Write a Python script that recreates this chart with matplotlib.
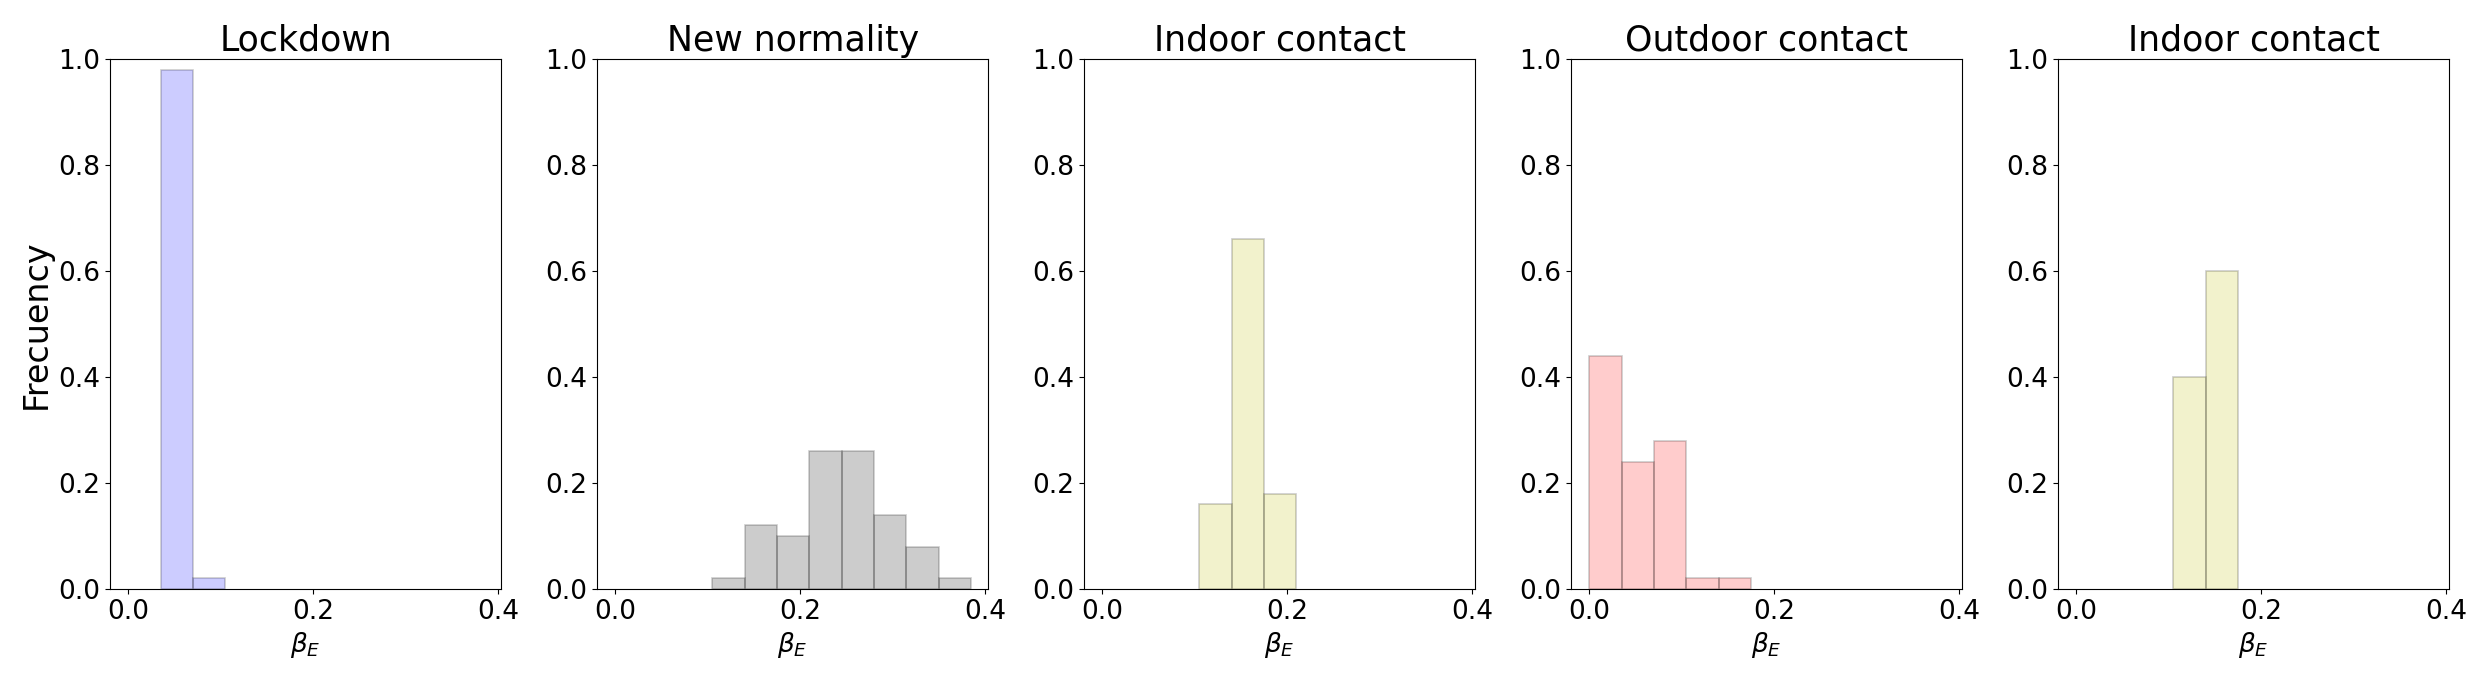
import numpy as np
import matplotlib.pyplot as plt

# bin width of every histogram
bin_w = 0.035

titles = ["Lockdown", "New normality", "Indoor contact", "Outdoor contact", "Indoor contact"]
colors = ["b", "k", "y", "r", "y"]

# left edges of the bins and the relative frequency of each bin
lockdown_left = [0.035, 0.070]
lockdown_freq = [0.98, 0.02]

normality_left = [0.105, 0.140, 0.175, 0.210, 0.245, 0.280, 0.315, 0.350]
normality_freq = [0.02, 0.12, 0.10, 0.26, 0.26, 0.14, 0.08, 0.02]

indoor_left = [0.105, 0.140, 0.175]
indoor_freq = [0.16, 0.66, 0.18]

outdoor_left = [0.000, 0.035, 0.070, 0.105, 0.140]
outdoor_freq = [0.44, 0.24, 0.28, 0.02, 0.02]

indoor2_left = [0.105, 0.140]
indoor2_freq = [0.40, 0.60]

lefts = [lockdown_left, normality_left, indoor_left, outdoor_left, indoor2_left]
freqs = [lockdown_freq, normality_freq, indoor_freq, outdoor_freq, indoor2_freq]

fig = plt.figure(figsize=(24.81, 6.86), dpi=100)

for i in range(5):
    ax = fig.add_axes([0.0443 + i * 0.1963, 0.1414, 0.1578, 0.7726])
    ax.bar(lefts[i], freqs[i], width=bin_w, align="edge",
           color=colors[i], edgecolor="k", alpha=0.2, linewidth=1.2)
    ax.set_xlim(-0.0198, 0.4037)
    ax.set_ylim(0, 1)
    ax.set_xticks([0.0, 0.2, 0.4])
    ax.set_yticks(np.arange(0, 1.01, 0.2))
    ax.tick_params(labelsize=19)
    ax.set_title(titles[i], fontsize=25)
    ax.set_xlabel(r"$\beta_E$", fontsize=19)
    if i == 0:
        ax.set_ylabel("Frecuency", fontsize=24)

fig.savefig("out.png", dpi=100)
